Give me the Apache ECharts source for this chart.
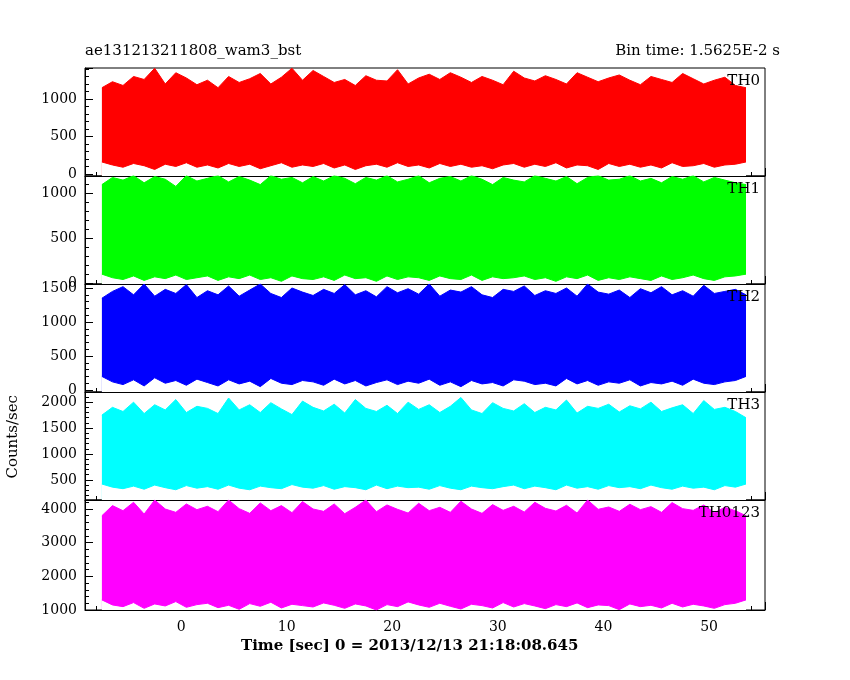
<!DOCTYPE html>
<html>
<head>
<meta charset="utf-8">
<script src="https://cdn.jsdelivr.net/npm/echarts@6/dist/echarts.min.js"></script>
<style>html,body{margin:0;padding:0;background:#fff}#chart{width:850px;height:680px}</style>
</head>
<body>
<div id="chart"></div>
<script>
// 每秒一个 bin 的上下包络
const binStart = -7.5;
const panelNames = ['TH0', 'TH1', 'TH2', 'TH3', 'TH0123'];
const panelColors = ['#ff0000', '#00ff00', '#0000ff', '#00ffff', '#ff00ff'];

const th0Max = [1150,1230,1180,1300,1260,1410,1200,1350,1280,1190, 1250,1150,1300,1220,1270,1340,1200,1290,1410,1250,
  1380,1300,1220,1260,1180,1310,1250,1240,1390,1200, 1280,1330,1260,1350,1290,1220,1300,1250,1190,1370,
  1280,1240,1310,1260,1200,1350,1290,1230,1280,1320, 1250,1190,1300,1260,1220,1340,1270,1200,1250,1290, 1180,1150];
const th0Min = [160,120,90,140,110,60,130,100,150,90, 120,80,140,100,130,70,110,150,90,120,
  100,140,80,120,60,110,130,90,150,100, 120,80,140,100,130,90,110,70,120,140,
  90,130,100,150,80,120,110,60,140,100, 130,90,120,80,150,100,110,140,90,120, 130,160];
const th1Max = [1100,1180,1150,1200,1120,1190,1160,1080,1200,1140, 1170,1200,1130,1190,1150,1100,1200,1160,1180,1120,
  1190,1140,1200,1170,1110,1180,1150,1200,1130,1160, 1200,1120,1170,1190,1140,1200,1160,1100,1180,1150,
  1130,1200,1170,1140,1190,1110,1180,1200,1150,1160, 1200,1140,1170,1120,1190,1160,1200,1130,1180,1150, 1120,1100];
const th1Min = [100,60,40,80,30,70,50,90,40,60, 80,30,70,50,90,40,60,20,80,50,
  40,70,30,90,50,60,20,80,40,70, 60,30,80,50,40,90,30,70,50,60,
  80,40,60,20,70,50,90,30,60,40, 70,50,30,80,40,60,90,50,30,70, 80,100];
const th2Max = [1350,1450,1520,1400,1559,1380,1480,1420,1550,1360, 1460,1400,1530,1380,1470,1559,1420,1360,1500,1440,
  1390,1480,1420,1550,1400,1460,1370,1520,1430,1490, 1410,1559,1380,1470,1440,1520,1400,1360,1480,1450,
  1530,1390,1460,1420,1500,1380,1559,1440,1410,1470, 1360,1490,1430,1520,1400,1460,1380,1540,1420,1450, 1480,1400];
const th2Min = [200,120,80,150,60,180,100,140,70,160, 110,60,150,90,130,50,170,100,80,140,
  120,70,160,90,140,60,110,150,80,130, 100,160,70,120,50,140,90,110,60,150,
  130,80,100,60,170,90,140,70,120,100, 150,60,110,90,130,70,160,100,80,120, 140,200];
const th3Max = [1750,1900,1820,2000,1780,1950,1850,2050,1800,1920, 1880,1780,2080,1850,1950,1800,1990,1870,1760,2020,
  1900,1830,1960,1790,2050,1880,1820,1940,1780,2000, 1860,1950,1800,1920,2090,1850,1780,1990,1880,1830,
  1970,1800,1900,1850,2040,1790,1920,1880,1960,1810, 1930,1870,2000,1820,1890,1950,1780,2030,1860,1900, 1820,1700];
const th3Min = [420,360,330,380,320,400,350,310,390,340, 370,320,400,340,310,380,350,330,410,360,
  340,390,320,370,350,310,400,330,380,350, 360,320,390,340,310,380,350,330,370,400,
  330,380,350,310,400,340,370,320,390,350, 370,330,400,350,320,380,340,360,310,390, 360,420];
const thAllMax = [3800,4100,3950,4200,3850,4267,4000,3900,4150,3980, 4080,3920,4267,4010,3870,4180,3950,4100,3890,4220,
  4000,3930,4150,3860,4050,4267,3920,4120,3990,3880, 4170,3950,4050,3900,4230,4000,3870,4130,3960,4080,
  3910,4200,4020,3940,4110,3880,4267,3990,4060,3930, 4140,3980,4070,3900,4190,4010,3960,4120,3890,4050, 3950,3800];
const thAllMin = [1300,1150,1100,1220,1050,1180,1120,1250,1080,1160, 1200,1070,1140,1020,1190,1110,1230,1060,1170,1130,
  1090,1210,1140,1050,1180,1120,1000,1160,1100,1240, 1150,1080,1200,1110,1030,1170,1130,1060,1220,1090,
  1190,1120,1040,1160,1100,1210,1070,1150,1130,1010, 1180,1100,1140,1060,1200,1090,1170,1120,1050,1160, 1200,1300];

const maxes = [th0Max, th1Max, th2Max, th3Max, thAllMax];
const mins = [th0Min, th1Min, th2Min, th3Min, thAllMin];
const yRanges = [[-27, 1413, 500], [-10, 1196, 500], [-29, 1559, 500], [112, 2196, 500], [1000, 4267, 1000]];

const font = 'DejaVu Serif';
const tops = [68, 176, 284, 392, 500];
const heights = [108, 108, 108, 108, 110];

let grids = [], xAxes = [], yAxes = [], series = [], texts = [];
for (let i = 0; i < 5; i++) {
  const last = i == 4;
  grids.push({left: 85, right: 85, top: tops[i], height: heights[i], show: true, borderColor: '#000', borderWidth: 1, backgroundColor: 'transparent'});
  xAxes.push({
    type: 'value', gridIndex: i, min: -9.1, max: 55.3, splitNumber: 6,
    axisLine: {onZero: false, lineStyle: {color: '#000'}},
    axisTick: {inside: true, length: 8, lineStyle: {color: '#000'}},
    minorTick: {show: true, splitNumber: 5, length: 4, lineStyle: {color: '#000'}},
    splitLine: {show: false},
    axisLabel: {show: last, color: '#000', fontFamily: font, fontSize: 14, margin: 10,
      formatter: v => (Math.abs(v % 10) < 1e-6 ? String(v) : '')}
  });
  const step = yRanges[i][2];
  yAxes.push({
    type: 'value', gridIndex: i, min: yRanges[i][0], max: yRanges[i][1], splitNumber: 3,
    axisLine: {onZero: false, lineStyle: {color: '#000'}},
    axisTick: {inside: true, length: 8, lineStyle: {color: '#000'}},
    minorTick: {show: true, splitNumber: 5, length: 4, lineStyle: {color: '#000'}},
    splitLine: {show: false},
    axisLabel: {color: '#000', fontFamily: font, fontSize: 14, margin: 8,
      formatter: v => (Math.abs(v % step) < 1e-6 ? String(v) : '')}
  });
  const up = maxes[i].map((v, k) => [binStart + k, v]);
  const lo = mins[i].map((v, k) => [binStart + k, v]);
  series.push({
    type: 'line', xAxisIndex: i, yAxisIndex: i, data: up, symbol: 'none', animation: false,
    lineStyle: {color: panelColors[i], width: 1},
    areaStyle: {color: panelColors[i], opacity: 1, origin: 'start'}
  });
  series.push({
    type: 'line', xAxisIndex: i, yAxisIndex: i, data: lo, symbol: 'none', animation: false,
    lineStyle: {color: panelColors[i], width: 1},
    areaStyle: {color: '#fff', opacity: 1, origin: 'start'}
  });
  texts.push({type: 'text', right: 90, top: tops[i] + 6, z: 100,
    style: {text: panelNames[i], font: '15px "' + font + '"', fill: '#000'}});
}

texts.push({type: 'text', left: 85, top: 44, style: {text: 'ae131213211808_wam3_bst', font: '15px "' + font + '"', fill: '#000'}});
texts.push({type: 'text', right: 70, top: 44, style: {text: 'Bin time: 1.5625E-2 s', font: '15px "' + font + '"', fill: '#000'}});
texts.push({type: 'text', left: 6, top: 395, rotation: Math.PI / 2, style: {text: 'Counts/sec', font: '15px "' + font + '"', fill: '#000'}});
texts.push({type: 'text', left: 241, top: 639, style: {text: 'Time [sec] 0 = 2013/12/13 21:18:08.645', font: 'bold 15px "' + font + '"', fill: '#000'}});

const chart = echarts.init(document.getElementById('chart'));
chart.setOption({
  backgroundColor: '#fff',
  animation: false,
  grid: grids, xAxis: xAxes, yAxis: yAxes, series: series,
  graphic: texts
});
</script>
</body>
</html>
